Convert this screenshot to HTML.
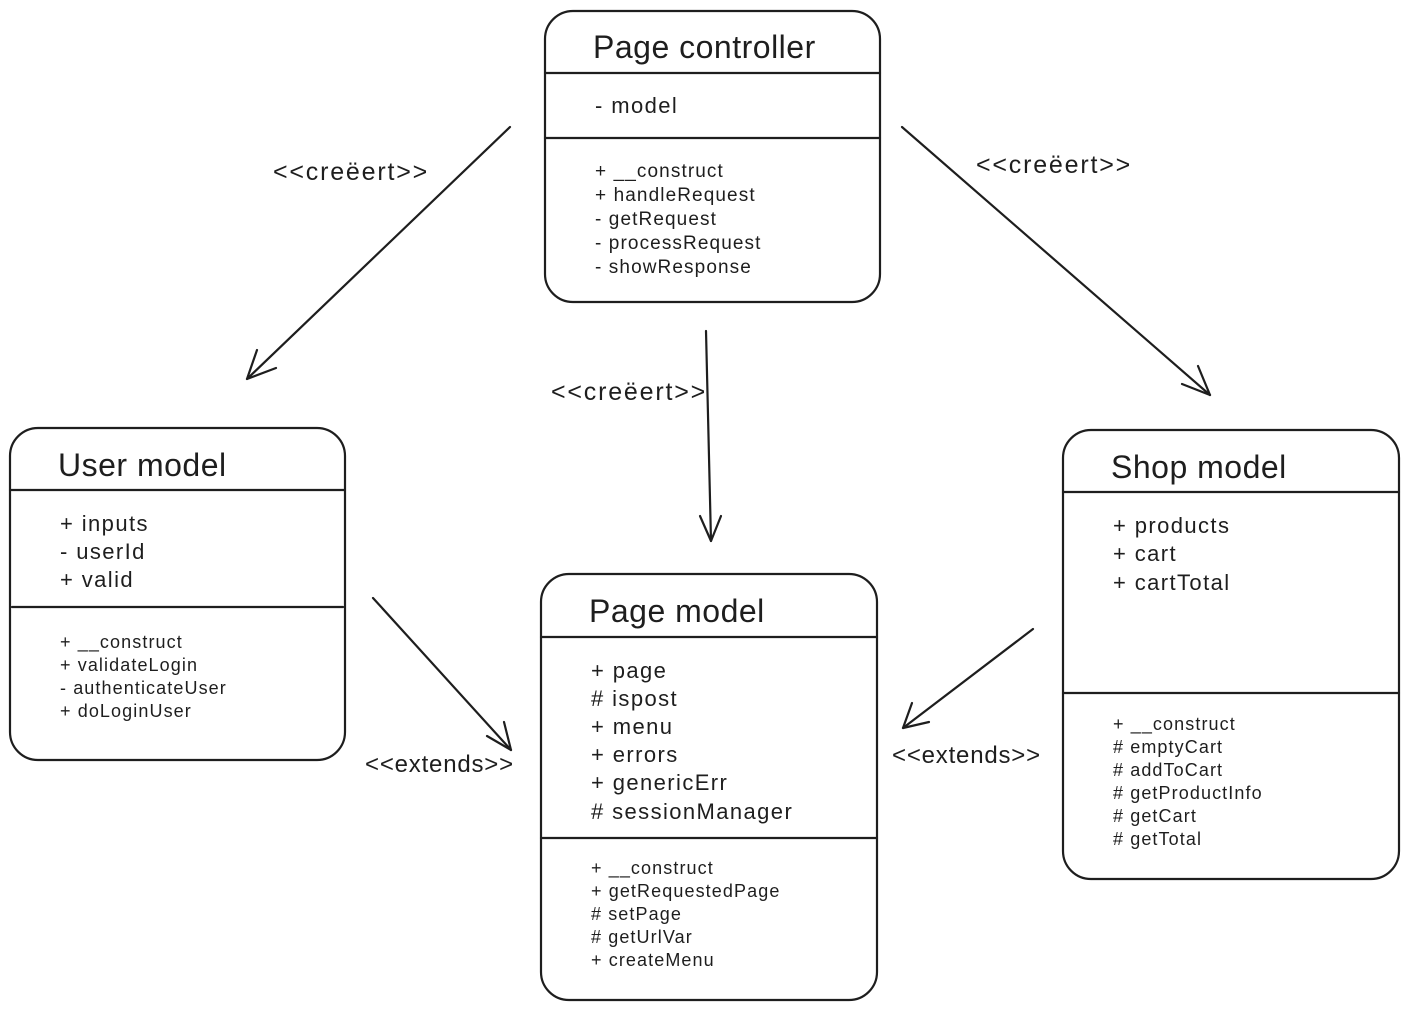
<!DOCTYPE html>
<html><head><meta charset="utf-8"><style>
html,body{margin:0;padding:0;background:#fff;}
svg text{font-family:"Liberation Sans",sans-serif;fill:#1e1e1e;}
</style></head><body>
<svg width="1409" height="1010" viewBox="0 0 1409 1010" xmlns="http://www.w3.org/2000/svg">
<g fill="none" stroke="#1e1e1e" stroke-width="2.2" stroke-linecap="round" stroke-linejoin="round">
<rect x="545" y="11" width="335" height="291" rx="28"/>
<line x1="545" y1="73" x2="880" y2="73"/><line x1="545" y1="138" x2="880" y2="138"/>
<rect x="10" y="428" width="335" height="332" rx="28"/>
<line x1="10" y1="490" x2="345" y2="490"/><line x1="12" y1="607" x2="343" y2="607"/>
<rect x="541" y="574" width="336" height="426" rx="28"/>
<line x1="541" y1="637" x2="877" y2="637"/><line x1="541" y1="838" x2="877" y2="838"/>
<rect x="1063" y="430" width="336" height="449" rx="28"/>
<line x1="1063" y1="492" x2="1399" y2="492"/><line x1="1063" y1="693" x2="1399" y2="693"/>
<line x1="510" y1="127" x2="247" y2="379"/><polyline points="257,350 247,379 276,368"/>
<line x1="902" y1="127" x2="1210" y2="395"/><polyline points="1182,384 1210,395 1198,366"/>
<line x1="706" y1="331" x2="711" y2="541"/><polyline points="700,516 711,541 721,516"/>
<line x1="373" y1="598" x2="511" y2="750"/><polyline points="487,736 511,750 504,722"/>
<line x1="1033" y1="629" x2="903" y2="728"/><polyline points="912,703 903,728 929,722"/>
</g>
<g font-size="32" letter-spacing="0.5">
<text x="593" y="58">Page controller</text>
<text x="58" y="476">User model</text>
<text x="589" y="622">Page model</text>
<text x="1111" y="478">Shop model</text>
</g>
<g font-size="22" letter-spacing="1.4">
<text x="595" y="113">- model</text>
<text x="60" y="531">+ inputs</text><text x="60" y="559">- userId</text><text x="60" y="587">+ valid</text>
<text x="591" y="678">+ page</text><text x="591" y="706"># ispost</text><text x="591" y="734">+ menu</text><text x="591" y="762">+ errors</text><text x="591" y="790">+ genericErr</text><text x="591" y="819"># sessionManager</text>
<text x="1113" y="533">+ products</text><text x="1113" y="561">+ cart</text><text x="1113" y="590">+ cartTotal</text>
</g>
<g font-size="19" letter-spacing="1.1">
<text x="595" y="177">+ __construct</text><text x="595" y="201">+ handleRequest</text><text x="595" y="225">- getRequest</text><text x="595" y="249">- processRequest</text><text x="595" y="273">- showResponse</text>
</g>
<g font-size="18" letter-spacing="1.1">
<text x="60" y="648">+ __construct</text><text x="60" y="671">+ validateLogin</text><text x="60" y="694">- authenticateUser</text><text x="60" y="717">+ doLoginUser</text>
<text x="591" y="874">+ __construct</text><text x="591" y="897">+ getRequestedPage</text><text x="591" y="920"># setPage</text><text x="591" y="943"># getUrlVar</text><text x="591" y="966">+ createMenu</text>
<text x="1113" y="730">+ __construct</text><text x="1113" y="753"># emptyCart</text><text x="1113" y="776"># addToCart</text><text x="1113" y="799"># getProductInfo</text><text x="1113" y="822"># getCart</text><text x="1113" y="845"># getTotal</text>
</g>
<g font-size="25" letter-spacing="1.8">
<text x="273" y="180">&lt;&lt;creëert&gt;&gt;</text>
<text x="976" y="173">&lt;&lt;creëert&gt;&gt;</text>
<text x="551" y="400">&lt;&lt;creëert&gt;&gt;</text>
</g>
<g font-size="24" letter-spacing="0.8">
<text x="365" y="772">&lt;&lt;extends&gt;&gt;</text>
<text x="892" y="763">&lt;&lt;extends&gt;&gt;</text>
</g>
</svg>
</body></html>
